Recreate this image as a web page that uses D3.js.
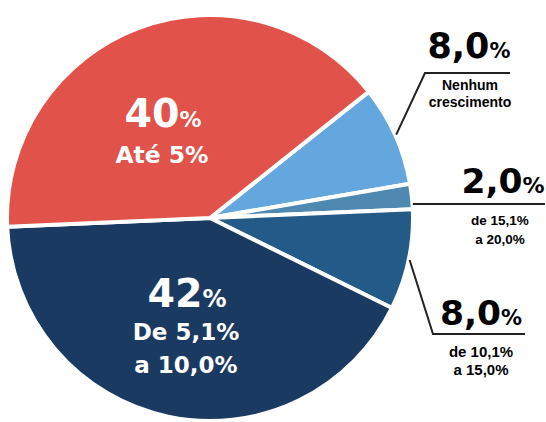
<!DOCTYPE html>
<html>
<head>
<meta charset="utf-8">
<script src="https://cdn.jsdelivr.net/npm/d3@7"></script>
<style>
  html, body { margin: 0; padding: 0; background: #fff; }
  svg { display: block; }
</style>
</head>
<body>
<svg id="chart" width="546" height="422"></svg>
<script>
// ---- data ----
const categories = ["Nenhum crescimento", "de 15,1% a 20,0%", "de 10,1% a 15,0%", "De 5,1% a 10,0%", "Até 5%"];
const shares = [8.0, 2.0, 8.0, 42, 40];
const valueLabels = ["8,0", "2,0", "8,0", "42", "40"];
const subLabels = [["Nenhum", "crescimento"], ["de 15,1%", "a 20,0%"], ["de 10,1%", "a 15,0%"], ["De 5,1%", "a 10,0%"], ["Até 5%"]];
const colors = ["#64a7de", "#4f88b1", "#245a87", "#1b3a61", "#e0524a"];

// ---- layout ----
const cx = 210, cy = 218, R = 203;
const startDeg = 51.5;

const svg = d3.select("#chart");
const g = svg.append("g").attr("transform", `translate(${cx},${cy})`);

const pie = d3.pie().sort(null).value(d => d)
  .startAngle(startDeg * Math.PI / 180)
  .endAngle(startDeg * Math.PI / 180 + 2 * Math.PI);
const arcs = pie(shares);
const arc = d3.arc().innerRadius(0).outerRadius(R);

g.selectAll("path.slice").data(arcs).enter().append("path")
  .attr("class", "slice")
  .attr("d", arc)
  .attr("fill", (d, i) => colors[i])
  .attr("stroke", "#fff")
  .attr("stroke-width", 4)
  .attr("stroke-linejoin", "round");

const bigFont = "'DejaVu Sans', sans-serif";
const smallFont = "'Liberation Sans', Arial, sans-serif";

// inside labels (white)
const inside = [
  { i: 4, x: 163, y: 127, big: 39.5, pct: 22, sub: 23.4, lh: 36 },
  { i: 3, x: 187, y: 307, big: 39.5, pct: 24, sub: 23, lh: 33 }
];
inside.forEach(o => {
  const t = svg.append("text").attr("x", o.x).attr("y", o.y)
    .attr("text-anchor", "middle").attr("fill", "#fff")
    .attr("font-family", bigFont).attr("font-weight", "bold");
  t.append("tspan").attr("font-size", o.big).text(valueLabels[o.i]);
  t.append("tspan").attr("font-size", o.pct).text("%");
  const s = svg.append("text").attr("y", o.y + o.lh)
    .attr("text-anchor", "middle").attr("fill", "#fff")
    .attr("font-family", bigFont).attr("font-weight", "bold")
    .attr("font-size", o.sub);
  subLabels[o.i].forEach((line, k) => {
    s.append("tspan").attr("x", o.x - 1).attr("dy", k === 0 ? 0 : 33).text(line);
  });
});

// outside labels (black) with leader lines
const outside = [
  { i: 0, x: 469, y: 58, big: 35, pct: 21, sub: 14, subY: 89.5, lh: 17, subX: 470,
    line: [[425, 73], [510, 73]] },
  { i: 1, x: 503, y: 193, big: 34.5, pct: 22, sub: 13.5, subY: 225, lh: 19, subX: 500,
    line: [null, [545, 204]], startY: 204 },
  { i: 2, x: 481, y: 325, big: 34.5, pct: 21, sub: 15, subY: 357, lh: 18, subX: 481,
    line: [[433, 334], [525, 334]] }
];
outside.forEach(o => {
  const d = arcs[o.i];
  const mid = (d.startAngle + d.endAngle) / 2;
  const px = cx + (R + 1) * Math.sin(mid), py = cy - (R + 1) * Math.cos(mid);
  let pts;
  if (o.line[0]) pts = [[px, py], o.line[0], o.line[1]];
  else pts = [[px, o.startY], o.line[1]];
  svg.append("path").attr("d", d3.line()(pts))
    .attr("fill", "none").attr("stroke", "#222").attr("stroke-width", 2);
  const t = svg.append("text").attr("x", o.x).attr("y", o.y)
    .attr("text-anchor", "middle").attr("fill", "#000")
    .attr("font-family", bigFont).attr("font-weight", "bold");
  t.append("tspan").attr("font-size", o.big).text(valueLabels[o.i]);
  t.append("tspan").attr("font-size", o.pct).text("%");
  const s = svg.append("text").attr("y", o.subY)
    .attr("text-anchor", "middle").attr("fill", "#000")
    .attr("font-family", smallFont).attr("font-weight", 700)
    .attr("font-size", o.sub);
  subLabels[o.i].forEach((line, k) => {
    s.append("tspan").attr("x", o.subX).attr("dy", k === 0 ? 0 : o.lh).text(line);
  });
});
</script>
</body>
</html>
